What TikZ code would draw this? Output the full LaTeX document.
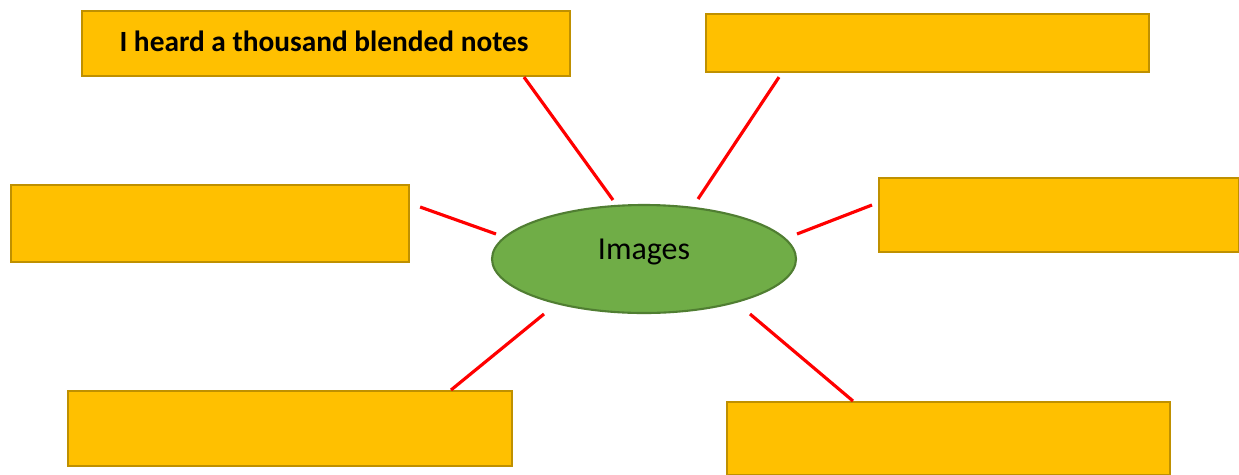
\documentclass[tikz,border=0pt]{standalone}
\usepackage{fontspec}
\setmainfont{Carlito}
\usepackage{xcolor}
\usetikzlibrary{shapes.geometric}

\definecolor{boxgold}{HTML}{FFC000}
\definecolor{boxedge}{HTML}{BF9000}
\definecolor{blobgreen}{HTML}{70AD47}
\definecolor{blobedge}{HTML}{507E32}

\tikzset{
  card/.style={draw=boxedge,fill=boxgold,line width=1.2pt,inner sep=0pt,anchor=north west},
  blob/.style={ellipse,draw=blobedge,fill=blobgreen,line width=1.2pt,inner sep=0pt},
  link/.style={draw=red,line width=1.8pt}
}

\begin{document}
\begin{tikzpicture}[x=0.02cm,y=-0.02cm]
        % page
        \fill[white] (0,0) rectangle (1239,474);
        \useasboundingbox (0,0) rectangle (1239,474);

        % centre
        \node[blob,minimum width=304*0.02cm,minimum height=108*0.02cm] (img) at (644,259) {};
        \node[font=\fontsize{18.2pt}{22pt}\selectfont] (imgtext) at (644,252) {Images};

        % boxes, top row
        \node[card,minimum width=488*0.02cm,minimum height=65*0.02cm] (notes) at (81,10)
            {};
        \node[font=\fontsize{16.7pt}{19pt}\selectfont\bfseries] (notestext) at (324,41) {I heard a thousand blended notes};
        \node[card,minimum width=443*0.02cm,minimum height=58*0.02cm] (topright) at (705,13) {};

        % boxes, middle row
        \node[card,minimum width=398*0.02cm,minimum height=77*0.02cm] (midleft) at (10,184) {};
        \node[card,minimum width=360*0.02cm,minimum height=74*0.02cm] (midright) at (878,177) {};

        % boxes, bottom row
        \node[card,minimum width=444*0.02cm,minimum height=75*0.02cm] (lowleft) at (67,390) {};
        \node[card,minimum width=443*0.02cm,minimum height=73*0.02cm] (lowright) at (726,401) {};

        % line ends near the ellipse
        \coordinate (e1) at (613,200);
        \coordinate (e2) at (698,199);
        \coordinate (e3) at (496,234);
        \coordinate (e4) at (797,234);
        \coordinate (e5) at (544,314);
        \coordinate (e6) at (750,314);

        % spokes
        \draw[link] (notes.south west) ++(443,0) -- (e1);
        \draw[link] (topright.south west) ++(74,4) -- (e2);
        \draw[link] (midleft.north east) ++(10,23) -- (e3);
        \draw[link] (midright.north west) ++(-6,28) -- (e4);
        \draw[link] (lowleft.north west) ++(384,0) -- (e5);
        \draw[link] (lowright.north west) ++(127,0) -- (e6);
    \end{tikzpicture}
\end{document}
